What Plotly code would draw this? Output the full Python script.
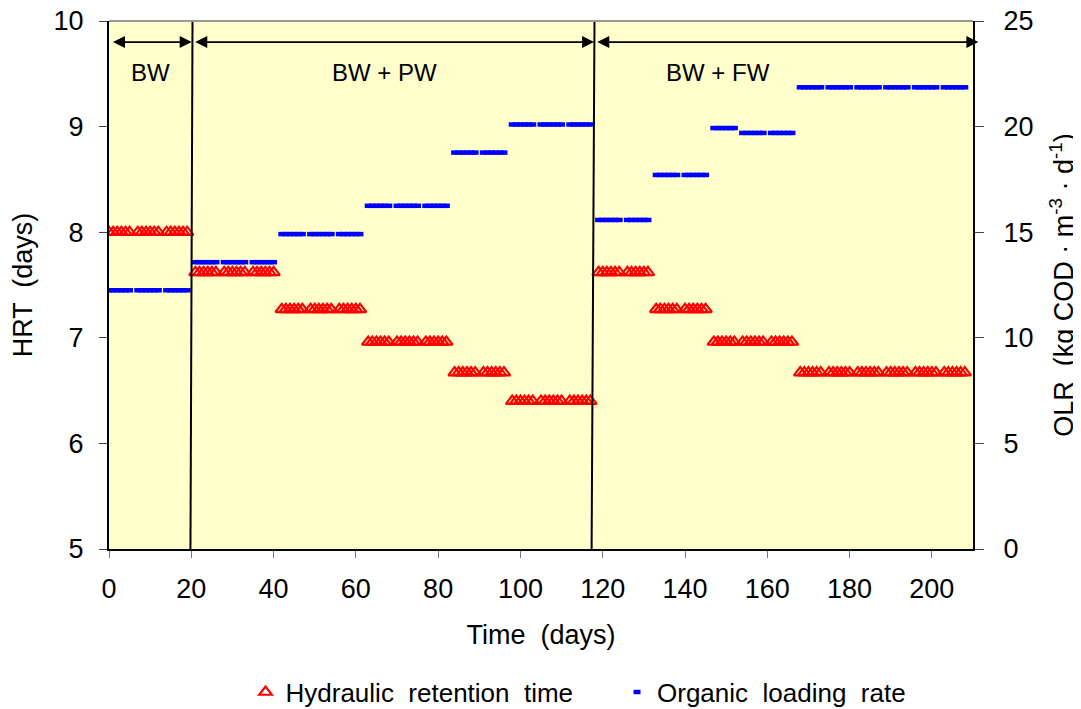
import plotly.graph_objects as go

# ---------------- data ----------------
days = [
    0, 1, 2, 3, 4, 5, 7, 8, 9, 10, 11, 12, 14, 15, 16, 17, 18, 19,
    21, 22, 23, 24, 25, 26, 28, 29, 30, 31, 32, 33, 35, 36, 37, 38, 39, 40,
    42, 43, 44, 45, 46, 47, 49, 50, 51, 52, 53, 54, 56, 57, 58, 59, 60, 61,
    63, 64, 65, 66, 67, 68, 70, 71, 72, 73, 74, 75, 77, 78, 79, 80, 81, 82,
    84, 85, 86, 87, 88, 89, 91, 92, 93, 94, 95, 96,
    98, 99, 100, 101, 102, 103, 105, 106, 107, 108, 109, 110, 112, 113, 114, 115, 116, 117,
    119, 120, 121, 122, 123, 124, 126, 127, 128, 129, 130, 131,
    133, 134, 135, 136, 137, 138, 140, 141, 142, 143, 144, 145,
    147, 148, 149, 150, 151, 152, 154, 155, 156, 157, 158, 159, 161, 162, 163, 164, 165, 166,
    168, 169, 170, 171, 172, 173, 175, 176, 177, 178, 179, 180, 182, 183, 184, 185, 186, 187,
    189, 190, 191, 192, 193, 194, 196, 197, 198, 199, 200, 201, 203, 204, 205, 206, 207, 208,
]

hrt_days = [
    8.00, 8.00, 8.00, 8.00, 8.00, 8.00, 8.00, 8.00, 8.00, 8.00, 8.00, 8.00, 8.00, 8.00, 8.00, 8.00, 8.00, 8.00,
    7.62, 7.62, 7.62, 7.62, 7.62, 7.62, 7.62, 7.62, 7.62, 7.62, 7.62, 7.62, 7.62, 7.62, 7.62, 7.62, 7.62, 7.62,
    7.27, 7.27, 7.27, 7.27, 7.27, 7.27, 7.27, 7.27, 7.27, 7.27, 7.27, 7.27, 7.27, 7.27, 7.27, 7.27, 7.27, 7.27,
    6.96, 6.96, 6.96, 6.96, 6.96, 6.96, 6.96, 6.96, 6.96, 6.96, 6.96, 6.96, 6.96, 6.96, 6.96, 6.96, 6.96, 6.96,
    6.67, 6.67, 6.67, 6.67, 6.67, 6.67, 6.67, 6.67, 6.67, 6.67, 6.67, 6.67,
    6.40, 6.40, 6.40, 6.40, 6.40, 6.40, 6.40, 6.40, 6.40, 6.40, 6.40, 6.40, 6.40, 6.40, 6.40, 6.40, 6.40, 6.40,
    7.62, 7.62, 7.62, 7.62, 7.62, 7.62, 7.62, 7.62, 7.62, 7.62, 7.62, 7.62,
    7.27, 7.27, 7.27, 7.27, 7.27, 7.27, 7.27, 7.27, 7.27, 7.27, 7.27, 7.27,
    6.96, 6.96, 6.96, 6.96, 6.96, 6.96, 6.96, 6.96, 6.96, 6.96, 6.96, 6.96, 6.96, 6.96, 6.96, 6.96, 6.96, 6.96,
    6.67, 6.67, 6.67, 6.67, 6.67, 6.67, 6.67, 6.67, 6.67, 6.67, 6.67, 6.67, 6.67, 6.67, 6.67, 6.67, 6.67, 6.67,
    6.67, 6.67, 6.67, 6.67, 6.67, 6.67, 6.67, 6.67, 6.67, 6.67, 6.67, 6.67, 6.67, 6.67, 6.67, 6.67, 6.67, 6.67,
]

olr_kg_cod = [
    12.25, 12.25, 12.25, 12.25, 12.25, 12.25, 12.25, 12.25, 12.25, 12.25, 12.25, 12.25, 12.25, 12.25, 12.25, 12.25, 12.25, 12.25,
    13.58, 13.58, 13.58, 13.58, 13.58, 13.58, 13.58, 13.58, 13.58, 13.58, 13.58, 13.58, 13.58, 13.58, 13.58, 13.58, 13.58, 13.58,
    14.91, 14.91, 14.91, 14.91, 14.91, 14.91, 14.91, 14.91, 14.91, 14.91, 14.91, 14.91, 14.91, 14.91, 14.91, 14.91, 14.91, 14.91,
    16.25, 16.25, 16.25, 16.25, 16.25, 16.25, 16.25, 16.25, 16.25, 16.25, 16.25, 16.25, 16.25, 16.25, 16.25, 16.25, 16.25, 16.25,
    18.77, 18.77, 18.77, 18.77, 18.77, 18.77, 18.77, 18.77, 18.77, 18.77, 18.77, 18.77,
    20.10, 20.10, 20.10, 20.10, 20.10, 20.10, 20.10, 20.10, 20.10, 20.10, 20.10, 20.10, 20.10, 20.10, 20.10, 20.10, 20.10, 20.10,
    15.58, 15.58, 15.58, 15.58, 15.58, 15.58, 15.58, 15.58, 15.58, 15.58, 15.58, 15.58,
    17.71, 17.71, 17.71, 17.71, 17.71, 17.71, 17.71, 17.71, 17.71, 17.71, 17.71, 17.71,
    19.93, 19.93, 19.93, 19.93, 19.93, 19.93, 19.70, 19.70, 19.70, 19.70, 19.70, 19.70, 19.70, 19.70, 19.70, 19.70, 19.70, 19.70,
    21.86, 21.86, 21.86, 21.86, 21.86, 21.86, 21.86, 21.86, 21.86, 21.86, 21.86, 21.86, 21.86, 21.86, 21.86, 21.86, 21.86, 21.86,
    21.86, 21.86, 21.86, 21.86, 21.86, 21.86, 21.86, 21.86, 21.86, 21.86, 21.86, 21.86, 21.86, 21.86, 21.86, 21.86, 21.86, 21.86,
]

phase_labels = ["BW", "BW + PW", "BW + FW"]
phase_label_x = [10, 67, 148]
phase_arrow_start = [0.6, 20.6, 118.3]
phase_arrow_end = [20.1, 117.9, 211.3]
divider_top_x = [20.3, 118.0]
divider_bottom_x = [19.8, 117.3]

x_ticks = [0, 20, 40, 60, 80, 100, 120, 140, 160, 180, 200]

FONT = "Liberation Sans, Arial, sans-serif"

fig = go.Figure()

fig.add_trace(go.Scatter(
    x=days, y=hrt_days, mode="markers", name="Hydraulic  retention  time",
    marker=dict(symbol="triangle-up-open", size=11, color="#FF0000",
                line=dict(width=2.2, color="#FF0000")),
    yaxis="y", legend="legend",
))
fig.add_trace(go.Scatter(
    x=days, y=olr_kg_cod, mode="markers", name="Organic  loading  rate",
    marker=dict(symbol="line-ew", size=5, color="#0000FF",
                line=dict(width=4.5, color="#0000FF")),
    yaxis="y2", legend="legend2",
))

shapes = []
for xt, xb in zip(divider_top_x, divider_bottom_x):
    shapes.append(dict(type="line", xref="x", yref="y", x0=xt, y0=10, x1=xb, y1=5,
                       line=dict(color="black", width=2)))

annotations = []
for xs, xe in zip(phase_arrow_start, phase_arrow_end):
    annotations.append(dict(
        x=xe, y=9.8, ax=xs, ay=9.8, xref="x", yref="y", axref="x", ayref="y",
        text="", showarrow=True, arrowside="end+start", arrowhead=2,
        arrowsize=1.5, arrowwidth=1.6, arrowcolor="black",
    ))
for lab, lx in zip(phase_labels, phase_label_x):
    annotations.append(dict(
        x=lx, y=9.51, xref="x", yref="y", text=lab, showarrow=False,
        font=dict(family=FONT, size=24, color="black"),
    ))

legend_common = dict(orientation="h", xanchor="left", y=-0.271, yanchor="middle",
                     font=dict(family=FONT, size=26), itemwidth=30,
                     bgcolor="rgba(0,0,0,0)")

# the page body adds an 8 px offset, so margins are reduced by 8 px on left/top
fig.update_layout(
    width=1081, height=709,
    margin=dict(l=101, r=116, t=13, b=168, autoexpand=False),
    paper_bgcolor="white",
    plot_bgcolor="#FFFFCC",
    font=dict(family=FONT, size=26, color="black"),
    showlegend=True,
    legend=dict(x=0.158, **legend_common),
    legend2=dict(x=0.588, **legend_common),
    xaxis=dict(
        range=[0, 210], tickvals=x_ticks, ticks="outside", ticklen=7, tickwidth=1,
        tickcolor="#777777", showline=True, linecolor="black", linewidth=2,
        mirror=False, showgrid=False, zeroline=False, automargin=False,
        tickfont=dict(family=FONT, size=27), ticklabelstandoff=8,
        ticklabeloverflow="allow",
        title=dict(text="Time  (days)", font=dict(family=FONT, size=27), standoff=22),
    ),
    yaxis=dict(
        range=[5, 10], dtick=1, ticks="outside", ticklen=8, tickwidth=1,
        tickcolor="#444444", showline=True, linecolor="black", linewidth=2,
        showgrid=False, zeroline=False, automargin=False,
        tickfont=dict(family=FONT, size=27), ticklabelstandoff=10,
        ticklabeloverflow="allow",
        title=dict(text="HRT  (days)", font=dict(family=FONT, size=27), standoff=30),
    ),
    yaxis2=dict(
        range=[0, 25], dtick=5, overlaying="y", side="right", anchor="x",
        ticks="outside", ticklen=9, tickwidth=1, tickcolor="#444444",
        showline=True, linecolor="black", linewidth=2,
        showgrid=False, zeroline=False, automargin=False,
        tickfont=dict(family=FONT, size=27), ticklabelstandoff=14,
        ticklabeloverflow="allow",
        title=dict(text="OLR  (kg COD · m<sup>-3</sup> · d<sup>-1</sup>)",
                   font=dict(family=FONT, size=27), standoff=22),
    ),
    shapes=shapes + [dict(type="line", xref="paper", yref="paper", x0=0, x1=1, y0=1, y1=1,
                          line=dict(color="#999999", width=2))],
    annotations=annotations,
)

fig.write_html("out.html")
